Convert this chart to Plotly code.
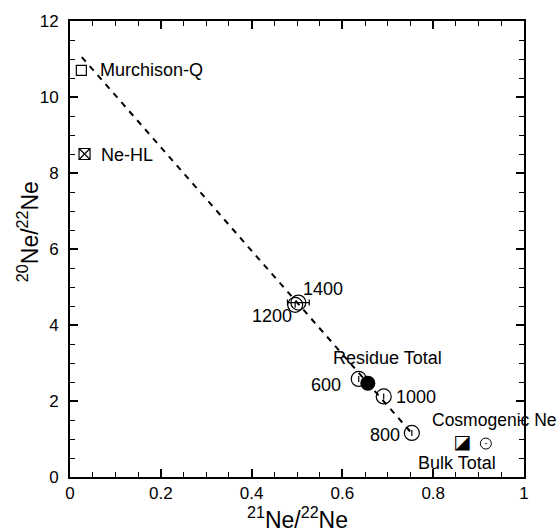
import plotly.graph_objects as go

# ---- data ----
mix_x = [0.026, 0.755]
mix_y = [11.05, 1.12]

murch_x = [0.025]
murch_y = [10.70]
nehl_x = [0.032]
nehl_y = [8.50]

step_labels = ["1200", "1400", "600", "1000", "800"]
step_x = [0.496, 0.503, 0.636, 0.691, 0.753]
step_y = [4.53, 4.59, 2.58, 2.12, 1.16]
step_xerr = [0.0, 0.024, 0.0, 0.0, 0.0]

residue_x = [0.656]
residue_y = [2.47]

bulk_x = [0.864]
bulk_y = [0.88]

cosmo_x = [0.916]
cosmo_y = [0.88]

x_ticks = [0, 0.2, 0.4, 0.6, 0.8, 1]
x_ticklabels = ["0", "0.2", "0.4", "0.6", "0.8", "1"]
y_ticks = [0, 2, 4, 6, 8, 10, 12]
y_ticklabels = ["0", "2", "4", "6", "8", "10", "12"]

FONT = "Liberation Sans, Arial, Helvetica, sans-serif"

fig = go.Figure()

# mixing line
fig.add_trace(go.Scatter(x=mix_x, y=mix_y, mode="lines",
                         line=dict(color="black", width=2, dash="6px,6px"),
                         showlegend=False, hoverinfo="skip"))

# Murchison-Q
fig.add_trace(go.Scatter(x=murch_x, y=murch_y, mode="markers",
                         marker=dict(symbol="square-open", size=10, color="black",
                                     line=dict(width=1.2, color="black")),
                         showlegend=False))
# Ne-HL
fig.add_trace(go.Scatter(x=nehl_x, y=nehl_y, mode="markers",
                         marker=dict(symbol="square-x-open", size=11, color="black",
                                     line=dict(width=1.2, color="black")),
                         showlegend=False))

# stepped heating points
fig.add_trace(go.Scatter(x=step_x, y=step_y, mode="markers",
                         error_x=dict(type="data", array=step_xerr, visible=True,
                                      color="black", thickness=1.2, width=3),
                         marker=dict(symbol="circle-open", size=15, color="black",
                                     line=dict(width=1.2, color="black")),
                         showlegend=False))

# residue total
fig.add_trace(go.Scatter(x=residue_x, y=residue_y, mode="markers",
                         marker=dict(symbol="circle", size=15, color="black"),
                         showlegend=False))

# bulk total (half-filled square)
fig.add_trace(go.Scatter(x=bulk_x, y=bulk_y, mode="text", text=["\u25EA"],
                         textposition="middle center",
                         textfont=dict(family="DejaVu Sans", size=19, color="black"),
                         showlegend=False))

# cosmogenic Ne
fig.add_trace(go.Scatter(x=cosmo_x, y=cosmo_y, mode="markers",
                         marker=dict(symbol="circle-open-dot", size=11, color="black",
                                     line=dict(width=1, color="black")),
                         showlegend=False))

def label(text, x, y, xanchor, size=18):
    fig.add_annotation(x=x, y=y, text=text, showarrow=False, xanchor=xanchor,
                       yanchor="middle", borderpad=0,
                       font=dict(family=FONT, size=size, color="black"))

label("Murchison-Q", 0.063, 10.72, "left")
label("Ne-HL", 0.065, 8.47, "left")
label(step_labels[1], 0.510, 4.95, "left")
label(step_labels[0], 0.491, 4.24, "right")
label("Residue Total", 0.578, 3.14, "left")
label(step_labels[2], 0.599, 2.41, "right")
label(step_labels[3], 0.715, 2.10, "left")
label(step_labels[4], 0.730, 1.10, "right")
label("Cosmogenic Ne", 0.795, 1.49, "left", size=17.5)
label("Bulk Total", 0.764, 0.375, "left")

# axis titles
fig.add_annotation(xref="paper", yref="paper", x=0.5, y=-0.089,
                   text="<sup>21</sup>Ne/<sup>22</sup>Ne", showarrow=False,
                   xanchor="center", yanchor="middle",
                   font=dict(family=FONT, size=23, color="black"))
fig.add_annotation(xref="paper", yref="paper", x=-0.0925, y=0.537,
                   text="<sup>20</sup>Ne/<sup>22</sup>Ne", showarrow=False,
                   textangle=-90, xanchor="center", yanchor="middle",
                   font=dict(family=FONT, size=23, color="black"))

axis_common = dict(showgrid=False, zeroline=False, showline=True, linecolor="black",
                   linewidth=2, mirror="ticks", ticks="inside", ticklen=8,
                   tickwidth=1.5, tickcolor="black",
                   tickfont=dict(family=FONT, size=17, color="black"))

fig.update_xaxes(range=[0, 1], tickvals=x_ticks, ticktext=x_ticklabels,
                 minor=dict(dtick=0.05, ticks="inside", ticklen=5, tickwidth=1.2,
                            tickcolor="black", showgrid=False),
                 **axis_common)
fig.update_yaxes(range=[0, 12], tickvals=y_ticks, ticktext=y_ticklabels,
                 minor=dict(dtick=0.5, ticks="inside", ticklen=5, tickwidth=1.2,
                            tickcolor="black", showgrid=False),
                 ticklabelstandoff=6,
                 **axis_common)

fig.update_layout(width=560, height=531, margin=dict(l=70, r=36, t=19, b=54),
                  plot_bgcolor="white", paper_bgcolor="white",
                  font=dict(family=FONT, color="black"), showlegend=False)

# remove the default 8px page margin so the 560x531 figure fills the window exactly
fig.write_html("out.html", config={"displayModeBar": False},
               post_script="document.body.style.margin='0';document.body.style.overflow='hidden';")
